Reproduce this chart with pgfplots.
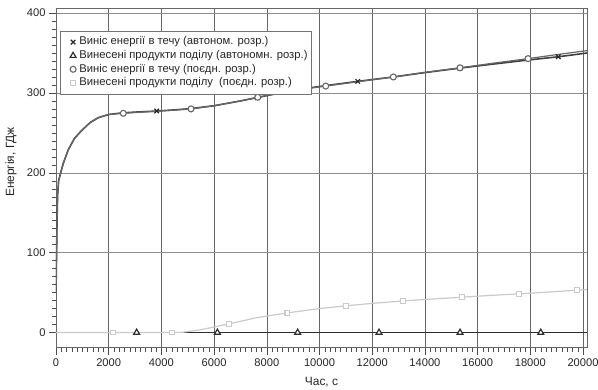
\documentclass[border=0pt]{standalone}
\usepackage{fontspec}
\setmainfont{Liberation Sans}
\usepackage{pgfplots}
\pgfplotsset{compat=1.18}
\definecolor{cA}{HTML}{404040}
\definecolor{cB}{HTML}{666666}
\definecolor{cC}{HTML}{2E2E2E}
\definecolor{cD}{HTML}{CACACA}
\begin{document}
\begin{tikzpicture}
\useasboundingbox (-56bp,-42.3bp) rectangle (542bp,347.7bp);
\begin{axis}[
 at={(0,0)}, anchor=south west,
 scale only axis, width=531bp, height=339.4bp,
 xmin=0, xmax=20150, ymin=-19, ymax=406,
 xtick={0,2000,...,20000}, ytick={0,100,...,400},
 minor x tick num=9, minor y tick num=9,
 tick align=outside, xtick pos=left, ytick pos=left,
 major tick length=7bp, minor tick length=4bp,
 grid=major,
 x grid style={color=black!60, line width=0.6pt},
 y grid style={color=black!45, line width=0.6pt},
 axis line style={black!60, line width=0.6pt},
 tick style={black!70, line width=0.5pt},
 /pgf/number format/assume math mode=true,
 /pgf/number format/1000 sep={},
 scaled x ticks=false,
 ticklabel style={font=\fontsize{11.2}{13}\selectfont, text=black!85},
 xlabel={Час, с}, ylabel={Енергія, ГДж},
 every axis x label/.style={at={(rel axis cs:0.5,0)}, yshift=-34.6bp, anchor=center, font=\fontsize{12}{14}\selectfont, text=black!85},
 every axis y label/.style={at={(rel axis cs:0,0.547)}, xshift=-45bp, rotate=90, anchor=center, font=\fontsize{12}{14}\selectfont, text=black!85},
 legend style={at={(0.0075,0.934)}, anchor=north west, draw=black!55, fill=white,
   font=\fontsize{11.3}{13}\selectfont, text=black!85,
   inner xsep=4bp, inner ysep=6bp, row sep=3.2bp, column sep=0pt,
   nodes={inner sep=0pt, text height=8bp, text depth=2.4bp}},
 legend cell align=left,
 legend image code/.code={\path (0bp,0bp) (14bp,0bp); \draw[#1] plot coordinates {(8.3bp,0bp)};},
]
% lines
\addplot[cA, line width=1.6pt, forget plot] coordinates {
(0,50) (40,140) (60,172) (100,190) (178,200) (278,212) (467,229) (700,243) (975,253) (1300,263) (1600,269) (2000,273) (2500,275) (3000,276) (3800,277.3) (4500,278.8) (5100,280.3) (6000,284) (7000,290) (7650,294.3) (8500,300) (9300,304.8) (10200,309) (11450,314.5) (12800,320) (14000,325.5) (15300,331) (16500,335.8) (17800,340.8) (19060,345.3) (20150,350)
};
\addplot[cC, line width=1.2pt, forget plot] coordinates {(0,0) (20150,0)};
\addplot[cB, line width=1.2pt, forget plot] coordinates {
(0,50) (40,140) (60,172) (100,190) (178,200) (278,212) (467,229) (700,243) (975,253) (1300,263) (1600,269) (2000,273) (2554,274.5) (3000,275.5) (3800,277) (4500,278.5) (5123,280) (6000,284) (7000,290) (7655,294.6) (8500,300) (9300,304.5) (10235,308.6) (11500,314.3) (12800,320) (14000,325.8) (15332,331.5) (16600,337.3) (17913,343) (19000,348) (20150,353)
};
\addplot[cD, line width=1.2pt, forget plot] coordinates {
(0,0) (2175,0) (4390,0) (4800,0.3) (5500,3.5) (6577,10.9) (7600,18.5) (8779,24.6) (10000,30) (10993,33.4) (12000,36.5) (13180,39.6) (14300,42) (15395,44.2) (16500,46.5) (17570,48.4) (18700,50.7) (19772,53) (20150,53.6)
};
% markers
\addplot[only marks, mark=x, mark size=3.2pt, line width=1.2pt, color=black!85] coordinates {
(3822,277.4) (7640,294.2) (11450,314.5) (15330,331) (19063,345.3)
};
\addlegendentry{Виніс енергії в течу (автоном. розр.)}
\addplot[only marks, mark=triangle*, mark size=3.4pt, line width=1.2pt, draw=cC, fill=white] coordinates {
(3060,0) (6123,0) (9170,0) (12258,0) (15332,0) (18395,0)
};
\addlegendentry{Винесені продукти поділу (автономн. розр.)}
\addplot[only marks, mark=*, mark size=3pt, line width=1.1pt, draw=cB, fill=white] coordinates {
(2554,274.5) (5123,280) (7655,294.6) (10235,308.6) (12800,320) (15332,331.5) (17913,343)
};
\addlegendentry{Виніс енергії в течу (поєдн. розр.)}
\addplot[only marks, mark=square*, mark size=2.4pt, line width=1.1pt, draw=cD, fill=white] coordinates {
(2175,0) (4390,0) (6577,10.9) (8779,24.6) (10993,33.4) (13180,39.6) (15395,44.2) (17570,48.4) (19772,53)
};
\addlegendentry{Винесені продукти поділу\ \ (поєдн. розр.)}
\end{axis}
\end{tikzpicture}
\end{document}
